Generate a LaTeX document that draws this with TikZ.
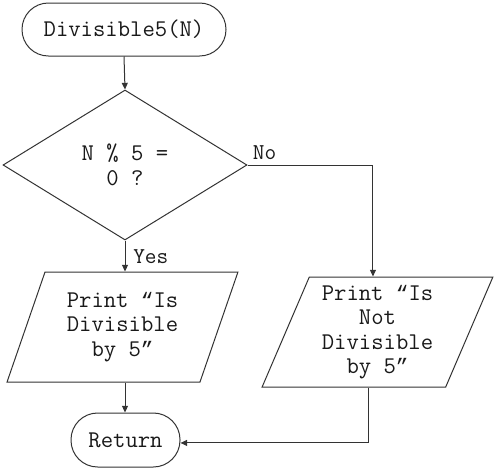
\documentclass[tikz,border=0pt]{standalone}
\usepackage{fontspec}
\newfontfamily\qfont{Liberation Mono}
\newcommand{\myopenq}{{\qfont\fontsize{15.7pt}{18pt}\selectfont “}}
\newcommand{\mycloseq}{{\qfont\fontsize{15.7pt}{18pt}\selectfont ”}}
\usetikzlibrary{shapes.geometric,arrows.meta,calc}
\begin{document}
\begin{tikzpicture}[x=0.75pt,y=-0.75pt,
  every node/.style={font=\ttfamily\fontsize{18pt}{18.4pt}\selectfont, align=center, inner sep=0pt, text=black!90},
  line/.style={draw=black!80, line width=0.75pt},
  arr/.style={line, -{Triangle[length=5pt,width=4.5pt]}},
  term/.style={line, rectangle, minimum height=53*0.75pt},
  decis/.style={line, diamond, minimum width=244*0.75pt, minimum height=150*0.75pt},
  iobox/.style={line, trapezium, trapezium stretches=true, minimum width=231*0.75pt, minimum height=110*0.75pt},
  lbl/.style={font=\ttfamily\fontsize{17pt}{18pt}\selectfont}
]
\useasboundingbox (0,0) rectangle (496,471);
\node[term, minimum width=204*0.75pt, rounded corners=19.8pt] (start) at (124,29.5) {Divisible5(N)};
\node[decis] (dec) at (125,165) {N \% 5 =\\0 ?};
\node[iobox, trapezium left angle=68.6, trapezium right angle=111.4] (yesbox) at (122.5,327) {Print \myopenq Is\\Divisible\\by 5\mycloseq};
\node[iobox, trapezium left angle=67.75, trapezium right angle=112.25] (nobox) at (377.5,332) {Print \myopenq Is\\Not\\Divisible\\by 5\mycloseq};
\node[term, minimum width=109*0.75pt, minimum height=54*0.75pt, rounded corners=20pt] (ret) at (125.5,440) {Return};

\draw[arr] (start.south) -- (dec.north);
\draw[arr] (dec.south) -- (dec.south |- yesbox.north);
\draw[arr] (dec.east) -| ([xshift=-3.4pt]nobox.center |- nobox.north);
\draw[arr] (dec.south |- yesbox.south) -- (ret.north -| dec.south);
\draw[arr] ([xshift=-7.1pt]nobox.center |- nobox.south) |- ([yshift=-2.2pt]ret.east);
\node[lbl, anchor=base west] (nolbl) at ([xshift=3.8pt,yshift=3.8pt]dec.east) {No};
\node[lbl, anchor=base west] (yeslbl) at ([xshift=6pt,yshift=-17.3pt]dec.south) {Yes};
\end{tikzpicture}
\end{document}
